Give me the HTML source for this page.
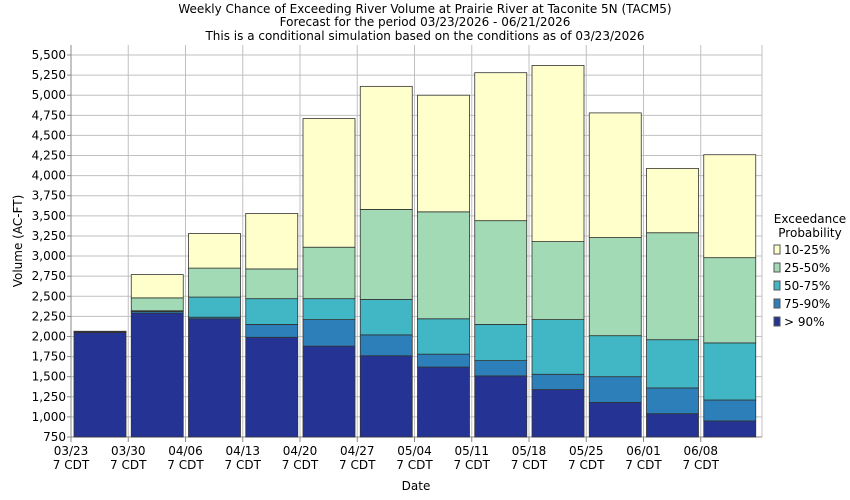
<!DOCTYPE html>
<html><head><meta charset="utf-8"><style>body{margin:0;background:#fff}svg{display:block;font-family:"DejaVu Sans","Liberation Sans",sans-serif}</style></head>
<body>
<svg id="s" width="850" height="500" xmlns="http://www.w3.org/2000/svg">
<rect width="850" height="500" fill="#fff"/>
<g font-size="12" text-anchor="middle" fill="#000">
<text x="425" y="13">Weekly Chance of Exceeding River Volume at Prairie River at Taconite 5N (TACM5)</text>
<text x="425" y="26">Forecast for the period 03/23/2026 - 06/21/2026</text>
<text x="425" y="40">This is a conditional simulation based on the conditions as of 03/23/2026</text>
</g>
<g id="grid"></g>
<g id="bars"></g>
<g id="ylab" font-size="12" text-anchor="end"></g>
<g id="xlab" font-size="12" text-anchor="middle"></g>
<text x="416" y="490" font-size="12" text-anchor="middle">Date</text>
<text transform="translate(22,241) rotate(-90)" font-size="12" text-anchor="middle">Volume (AC-FT)</text>
<g font-size="12">
<text x="810" y="223" text-anchor="middle">Exceedance</text>
<text x="810" y="237" text-anchor="middle">Probability</text>
<rect x="774" y="245" width="6" height="9" fill="#ffffcc" stroke="#555"/><text x="784" y="254">10-25%</text>
<rect x="774" y="263" width="6" height="9" fill="#a1dab4" stroke="#555"/><text x="784" y="272">25-50%</text>
<rect x="774" y="281" width="6" height="9" fill="#41b6c4" stroke="#555"/><text x="784" y="290">50-75%</text>
<rect x="774" y="299" width="6" height="9" fill="#2c7fb8" stroke="#555"/><text x="784" y="308">75-90%</text>
<rect x="774" y="317" width="6" height="9" fill="#253494" stroke="#555"/><text x="784" y="326">&gt; 90%</text>
</g>
</svg>
<script>
var NS="http://www.w3.org/2000/svg";
function el(p,t,a,txt){var e=document.createElementNS(NS,t);for(var k in a)e.setAttribute(k,a[k]);if(txt)e.textContent=txt;document.getElementById(p).appendChild(e);}
function Y(v){return 437-(v-750)*382/4750;}
var L=71,R=762,T=45,B=437,st=57.25;
for(var v=750;v<=5500;v+=250){var y=Y(v);el("grid","line",{x1:L,x2:R,y1:y,y2:y,stroke:"#c0c0c0"});el("grid","line",{x1:L-4,x2:L,y1:y,y2:y,stroke:"#888"});
el("ylab","text",{x:L-5,y:y+4},v.toLocaleString("en-US"));}
var d=["03/23","03/30","04/06","04/13","04/20","04/27","05/04","05/11","05/18","05/25","06/01","06/08"];
for(var i=0;i<12;i++){var x=L+st*i;el("grid","line",{x1:x,x2:x,y1:T,y2:B,stroke:"#c0c0c0"});el("grid","line",{x1:x,x2:x,y1:B,y2:B+5,stroke:"#888"});
el("xlab","text",{x:x,y:455},d[i]);el("xlab","text",{x:x,y:469},"7 CDT");}
el("grid","line",{x1:R,x2:R,y1:T,y2:B,stroke:"#c0c0c0"});
el("grid","line",{x1:L,x2:L,y1:T,y2:B+1,stroke:"#888"});
el("grid","line",{x1:L,x2:R,y1:B,y2:B,stroke:"#888"});
var data=[[2050,2060,2060,2065,2065],[2290,2310,2320,2480,2770],[2220,2240,2490,2850,3280],[1990,2150,2470,2840,3530],[1880,2210,2470,3110,4710],[1760,2020,2460,3580,5110],[1620,1780,2220,3550,5000],[1510,1700,2150,3440,5280],[1340,1530,2210,3180,5370],[1180,1500,2010,3230,4780],[1040,1360,1960,3290,4090],[950,1210,1920,2980,4260]];
var c=["#253494","#2c7fb8","#41b6c4","#a1dab4","#ffffcc"];
for(var i=0;i<12;i++){var x=L+3+st*i,prev=B;
for(var j=0;j<5;j++){var y=Y(data[i][j]);el("bars","rect",{x:x,y:y,width:52,height:Math.max(prev-y,0),fill:c[j],stroke:"#333","stroke-width":0.8});prev=y;}}
</script>
</body></html>
